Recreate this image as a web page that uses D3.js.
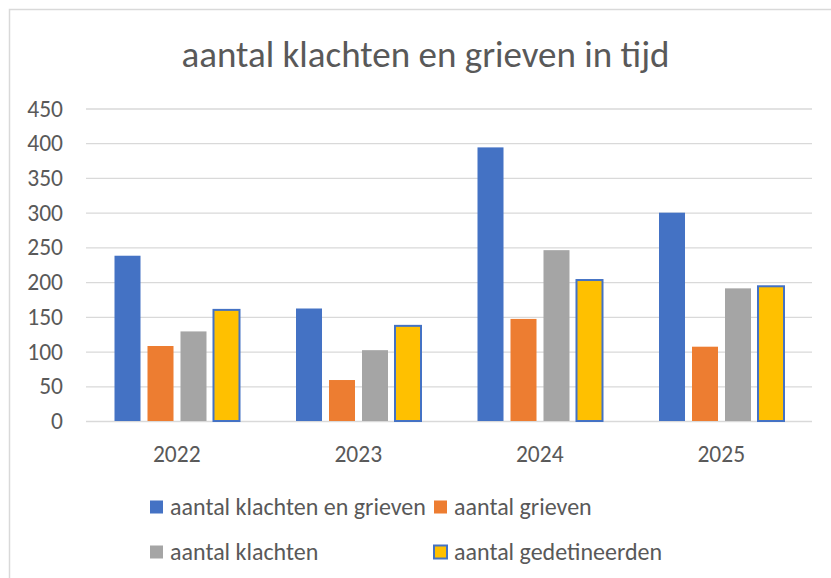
<!DOCTYPE html>
<html>
<head>
<meta charset="utf-8">
<script src="https://cdn.jsdelivr.net/npm/d3@7"></script>
<style>
  body { margin: 0; background: #fff; }
  text { font-family: Carlito, Calibri, Lato, sans-serif; fill: #595959; }
</style>
</head>
<body>
<div id="chart"></div>
<script>
// data
const years = ["2022", "2023", "2024", "2025"];
const seriesNames = ["aantal klachten en grieven", "aantal grieven", "aantal klachten", "aantal gedetineerden"];
const klachtenEnGrieven = [238, 162, 394, 300];
const grieven = [108, 59, 147, 107];
const klachten = [129, 102, 246, 191];
const gedetineerden = [160, 137, 203, 194];
const yTicks = [0, 50, 100, 150, 200, 250, 300, 350, 400, 450];

const colors = ["#4472C4", "#ED7D31", "#A5A5A5", "#FFC000"];
const values = [klachtenEnGrieven, grieven, klachten, gedetineerden];

const data = years.map((y, i) => ({
    year: y,
    vals: seriesNames.map((k, j) => ({ key: k, value: values[j][i] }))
}));

const W = 831, H = 578;
const plot = { left: 86, right: 812, top: 108.5, bottom: 421 };

const svg = d3.select("#chart").append("svg")
    .attr("width", W)
    .attr("height", H);

// chart border (only top and left edges fall inside the picture)
svg.append("rect")
    .attr("x", 9.5).attr("y", 9.5)
    .attr("width", W + 20).attr("height", H + 20)
    .attr("fill", "#fff")
    .attr("stroke", "#d9d9d9")
    .attr("stroke-width", 1.5);

// scales
const x0 = d3.scaleBand().domain(years).range([plot.left, plot.right]);
const x1 = d3.scaleBand().domain(seriesNames)
    .range([28.5, 153.5])
    .paddingInner(0.212);
const y = d3.scaleLinear().domain([0, 450]).range([plot.bottom, plot.top]);
const cScale = d3.scaleOrdinal().domain(seriesNames).range(colors);

// gridlines + y labels
const yAxis = d3.axisLeft(y).tickValues(yTicks).tickSize(-(plot.right - plot.left)).tickPadding(23);
const gy = svg.append("g")
    .attr("transform", `translate(${plot.left},0)`)
    .call(yAxis);
gy.select(".domain").remove();
gy.selectAll("line").attr("stroke", "#d9d9d9").attr("stroke-width", 1.3);
gy.selectAll("text").attr("font-size", 23.5).attr("fill", "#595959")
    .style("font-family", "Carlito, Calibri, Lato, sans-serif");

// bars
const groups = svg.selectAll("g.year")
    .data(data)
    .join("g")
    .attr("class", "year")
    .attr("transform", d => `translate(${x0(d.year)},0)`);

groups.selectAll("rect")
    .data(d => d.vals)
    .join("rect")
    .attr("x", d => x1(d.key))
    .attr("y", d => y(d.value))
    .attr("width", x1.bandwidth())
    .attr("height", d => y(0) - y(d.value))
    .attr("fill", d => cScale(d.key))
    .attr("stroke", d => d.key === "aantal gedetineerden" ? "#4472C4" : "none")
    .attr("stroke-width", 2);

// x labels
const xAxis = d3.axisBottom(x0).tickSize(0).tickPadding(24);
const gx = svg.append("g")
    .attr("transform", `translate(0,${plot.bottom})`)
    .call(xAxis);
gx.select(".domain").remove();
gx.selectAll("text").attr("font-size", 23.5).attr("fill", "#595959")
    .style("font-family", "Carlito, Calibri, Lato, sans-serif");

// title
svg.append("text")
    .attr("x", 425.5)
    .attr("y", 67)
    .attr("text-anchor", "middle")
    .attr("font-size", 37)
    .text("aantal klachten en grieven in tijd");

// legend, two rows of two
const legendPos = [[150, 507], [434, 507], [150, 552], [434, 552]];
const legend = svg.selectAll("g.legend")
    .data(seriesNames)
    .join("g")
    .attr("class", "legend")
    .attr("transform", (d, i) => `translate(${legendPos[i][0]},${legendPos[i][1]})`);

legend.append("rect")
    .attr("x", 0).attr("y", -6.5)
    .attr("width", 13).attr("height", 13)
    .attr("fill", d => cScale(d))
    .attr("stroke", d => d === "aantal gedetineerden" ? "#4472C4" : "none")
    .attr("stroke-width", 2);

legend.append("text")
    .attr("x", 20)
    .attr("y", 8)
    .attr("font-size", 24)
    .text(d => d);
</script>
</body>
</html>
